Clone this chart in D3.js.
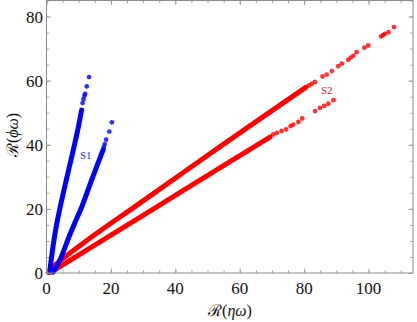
<!DOCTYPE html>
<html>
<head>
<meta charset="utf-8">
<script src="https://cdn.jsdelivr.net/npm/d3@7"></script>
<style>
  body { margin: 0; background: #fff; }
  svg { display: block; }
</style>
</head>
<body>
<svg id="chart" width="417" height="322" font-family="'Liberation Serif', 'DejaVu Serif', serif"></svg>
<script>
// tick values
var xTicks = [0, 20, 40, 60, 80, 100];
var yTicks = [0, 20, 40, 60, 80];

// S1 (blue): dense part as a thick trace, sparse tail as dots
var s1UpperLine = [[1.0,0.3],[1.5,4.5],[2.2,9.5],[3.3,16.0],[5.0,24.0],[7.3,34.0],[9.4,43.2],[10.9,50.8]];
var s1UpperDots = [[11.2,53.0],[11.5,54.2],[11.8,55.3],[12.0,55.9],[12.5,58.2],[13.2,61.1]];
var s1LowerLine = [[2.1,0.3],[3.0,1.8],[4.4,4.5],[5.3,6.8],[7.0,11.3],[9.3,16.8],[10.9,20.5],[14.0,29.0],[17.6,38.5]];
var s1LowerDots = [[17.8,39.3],[18.1,40.2],[18.5,41.6],[19.5,44.1],[20.3,47.0]];

// S2 (red)
var s2UpperLine = [[0.5,0.2],[3.0,2.8],[12.6,10.2],[30.0,22.5],[54.0,39.5],[80.5,57.9]];
var s2UpperDots = [[81.5,58.5],[82.4,59.0],[83.4,59.6],[85.7,61.3],[87.0,61.9],[88.6,63.0],[90.6,64.5],
  [91.7,65.3],[93.7,66.5],[94.5,67.2],[95.3,67.8],[96.3,68.9],[98.7,70.3],[99.9,71.0],
  [103.9,73.8],[104.5,74.2],[105.1,74.6],[106.2,75.1],[107.9,76.7]];
var s2LowerLine = [[1.2,0.2],[12.6,7.2],[30.0,18.0],[58.5,35.7],[69.4,42.4]];
var s2LowerDots = [[70.4,43.2],[71.5,43.7],[73.0,44.3],[74.4,44.8],[75.8,45.8],[76.6,46.3],[78.2,47.1],
  [79.4,48.2],[83.4,50.5],[84.9,51.5],[86.2,52.1],[87.5,52.8],[89.1,53.9]];

var plotLeft = 46.5, plotRight = 413, plotTop = 0.5, plotBottom = 273;

var svg = d3.select("#chart");

var x = d3.scaleLinear().domain([0, 113.8]).range([plotLeft, plotRight]);
var y = d3.scaleLinear().domain([0, 85]).range([plotBottom, plotTop]);

var line = d3.line()
  .curve(d3.curveCatmullRom)
  .x(function(d){ return x(d[0]); })
  .y(function(d){ return y(d[1]); });

function trace(data, color){
  svg.append("path")
    .datum(data)
    .attr("d", line)
    .attr("fill", "none")
    .attr("stroke", color)
    .attr("stroke-width", 5)
    .attr("stroke-linecap", "round")
    .attr("stroke-linejoin", "round");
}

function dots(data, color){
  svg.append("g").selectAll("circle")
    .data(data)
    .enter()
    .append("circle")
    .attr("cx", function(d){ return x(d[0]); })
    .attr("cy", function(d){ return y(d[1]); })
    .attr("r", 2.4)
    .attr("fill", color)
    .attr("opacity", 0.8);
}

// red first, blue on top
trace(s2UpperLine, "#ff0000");
trace(s2LowerLine, "#ff0000");
dots(s2UpperDots, "#ff0000");
dots(s2LowerDots, "#ff0000");
trace(s1UpperLine, "#0000ff");
trace(s1LowerLine, "#0000ff");
dots(s1UpperDots, "#0000ff");
dots(s1LowerDots, "#0000ff");

// frame with inward ticks on all sides
var gray = "#8c8c8c";
var xMinor = d3.range(0, 114, 5);
var yMinor = d3.range(0, 86, 5);

function tickFmt(){ return ""; }

svg.append("g").attr("transform", "translate(0," + plotBottom + ")")
  .call(d3.axisTop(x).tickValues(xMinor).tickSize(2.7).tickFormat(tickFmt));
svg.append("g").attr("transform", "translate(0," + plotBottom + ")")
  .call(d3.axisTop(x).tickValues(xTicks).tickSize(4.5).tickFormat(tickFmt));
svg.append("g").attr("transform", "translate(0," + plotTop + ")")
  .call(d3.axisBottom(x).tickValues(xMinor).tickSize(2.7).tickFormat(tickFmt));
svg.append("g").attr("transform", "translate(0," + plotTop + ")")
  .call(d3.axisBottom(x).tickValues(xTicks).tickSize(4.5).tickFormat(tickFmt));
svg.append("g").attr("transform", "translate(" + plotLeft + ",0)")
  .call(d3.axisRight(y).tickValues(yMinor).tickSize(2.7).tickFormat(tickFmt));
svg.append("g").attr("transform", "translate(" + plotLeft + ",0)")
  .call(d3.axisRight(y).tickValues(yTicks).tickSize(4.5).tickFormat(tickFmt));
svg.append("g").attr("transform", "translate(" + plotRight + ",0)")
  .call(d3.axisLeft(y).tickValues(yMinor).tickSize(2.7).tickFormat(tickFmt));
svg.append("g").attr("transform", "translate(" + plotRight + ",0)")
  .call(d3.axisLeft(y).tickValues(yTicks).tickSize(4.5).tickFormat(tickFmt));

svg.selectAll(".domain").remove();
svg.selectAll(".tick line").attr("stroke", gray).attr("stroke-width", 0.8);

svg.append("rect")
  .attr("x", plotLeft).attr("y", plotTop)
  .attr("width", plotRight - plotLeft).attr("height", plotBottom - plotTop)
  .attr("fill", "none").attr("stroke", gray).attr("stroke-width", 1);

// tick labels
svg.append("g").selectAll("text")
  .data(xTicks).enter().append("text")
  .attr("x", function(d){ return x(d); })
  .attr("y", 293.5)
  .attr("text-anchor", "middle")
  .attr("font-family", "'Liberation Serif', serif")
  .attr("font-size", 17)
  .attr("fill", "#111")
  .text(function(d){ return d; });

svg.append("g").selectAll("text")
  .data(yTicks).enter().append("text")
  .attr("x", 43)
  .attr("y", function(d){ return y(d) + 6; })
  .attr("text-anchor", "end")
  .attr("font-family", "'Liberation Serif', serif")
  .attr("font-size", 17)
  .attr("fill", "#111")
  .text(function(d){ return d; });

// axis titles
svg.append("text")
  .attr("x", 230).attr("y", 316)
  .attr("text-anchor", "middle")
  .attr("font-size", 16)
  .attr("fill", "#111")
  .html("ℛ(<tspan font-style='italic'>ηω</tspan>)");

svg.append("text")
  .attr("transform", "translate(18,135) rotate(-90)")
  .attr("text-anchor", "middle")
  .attr("font-size", 16)
  .attr("fill", "#111")
  .html("ℛ(<tspan font-style='italic'>ϕω</tspan>)");

// series labels
svg.append("text")
  .attr("x", 85.7).attr("y", 159)
  .attr("text-anchor", "middle")
  .attr("font-size", 11)
  .attr("fill", "#2a2ae0")
  .text("S1");

svg.append("text")
  .attr("x", 326.7).attr("y", 94)
  .attr("text-anchor", "middle")
  .attr("font-size", 11)
  .attr("fill", "#c8282c")
  .text("S2");
</script>
</body>
</html>
